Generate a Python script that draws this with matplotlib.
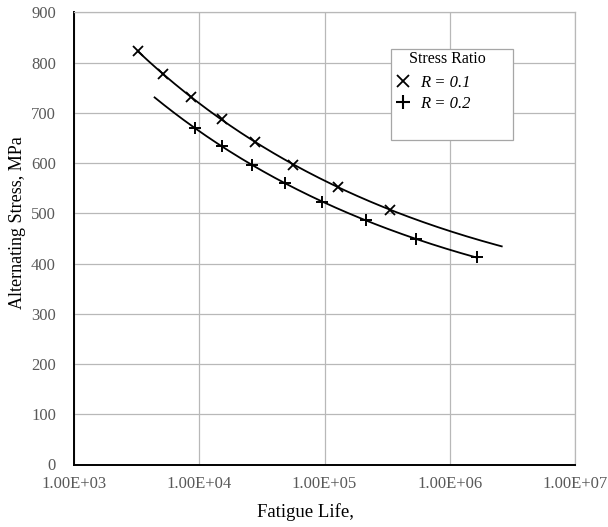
"""S-N curve: alternating stress vs fatigue life for two stress ratios."""
import matplotlib
matplotlib.use("Agg")
import matplotlib.pyplot as plt
import numpy as np
from matplotlib.lines import Line2D
from matplotlib.patches import Rectangle

# --- data --------------------------------------------------------------------
n_r01 = [3.26e3, 5.16e3, 8.53e3, 1.51e4, 2.79e4, 5.63e4, 1.27e5, 3.33e5]
s_r01 = [822, 777, 731, 687, 642, 597, 553, 507]
n_r02 = [9.25e3, 1.53e4, 2.64e4, 4.83e4, 9.59e4, 2.13e5, 5.36e5, 1.65e6]
s_r02 = [669, 633, 596, 560, 523, 487, 448, 412]
trend_r01 = (3.26e3, 2.6e6)     # span of the fitted curve
trend_r02 = (4.4e3, 1.65e6)

x_ticks = [1e3, 1e4, 1e5, 1e6, 1e7]
x_ticklabels = ["1.00E+03", "1.00E+04", "1.00E+05", "1.00E+06", "1.00E+07"]
y_ticks = list(range(0, 1000, 100))

GRID, TICK = "#b8b8b8", "#595959"

plt.rcParams.update({
    "font.family": ["Liberation Serif", "DejaVu Serif"],
    "figure.dpi": 100,
    "savefig.dpi": 100,
})


def trend(n, s, span):
    """Quadratic fit in log-log space, like a spreadsheet trendline."""
    coef = np.polyfit(np.log10(n), np.log10(s), 2)
    xs = np.logspace(np.log10(span[0]), np.log10(span[1]), 200)
    return xs, 10 ** np.polyval(coef, np.log10(xs))


fig = plt.figure(figsize=(6.08, 5.27))
ax = fig.add_axes([74 / 608, 1 - 464.5 / 527, (575 - 74) / 608, (464.5 - 12.3) / 527])

for n, s, span in ((n_r01, s_r01, trend_r01), (n_r02, s_r02, trend_r02)):
    xs, ys = trend(n, s, span)
    ax.plot(xs, ys, color="black", lw=1.3, zorder=3)
ax.plot(n_r01, s_r01, ls="none", marker="x", ms=7, mew=1.3, color="black", zorder=4)
ax.plot(n_r02, s_r02, ls="none", marker="+", ms=9, mew=1.4, color="black", zorder=4)

ax.set_xscale("log")
ax.set_xlim(1e3, 1e7)
ax.set_ylim(0, 900)
ax.set_xticks(x_ticks)
ax.set_xticklabels(x_ticklabels)
ax.xaxis.set_minor_locator(matplotlib.ticker.NullLocator())
ax.set_yticks(y_ticks)
ax.tick_params(length=0, labelsize=12, labelcolor=TICK)
ax.tick_params(axis="x", pad=8)
ax.tick_params(axis="y", pad=13)
ax.grid(True, color=GRID, lw=0.9)
ax.set_axisbelow(True)
for side in ("top", "right"):
    ax.spines[side].set_color(GRID)
    ax.spines[side].set_linewidth(0.9)
for side in ("left", "bottom"):
    ax.spines[side].set_color("black")
    ax.spines[side].set_linewidth(1.4)

fig.text(18 / 608, 1 - 223 / 527, "Alternating Stress, MPa", rotation=90,
         ha="center", va="center", fontsize=13)
fig.text(305.5 / 608, 1 - 512 / 527, "Fatigue Life,", ha="center", va="center",
         fontsize=13.5)

# legend: boxed, with the title on top and spare room below the entries
fig.patches.append(Rectangle((391 / 608, 1 - 140 / 527), 122 / 608, 91 / 527,
                             transform=fig.transFigure, facecolor="white",
                             edgecolor="#a6a6a6", lw=0.9, zorder=5))
fig.text(447 / 608, 1 - 59 / 527, "Stress Ratio", ha="center", va="center",
         fontsize=11.5, zorder=6)
handles = [Line2D([], [], ls="none", marker="x", ms=9, mew=1.3, color="black"),
           Line2D([], [], ls="none", marker="+", ms=10, mew=1.5, color="black")]
leg = fig.legend(handles, ["R = 0.1", "R = 0.2"], loc="upper left",
                 bbox_to_anchor=(383 / 608, 1 - 63 / 527), frameon=False,
                 handlelength=1.0, handletextpad=0.5, labelspacing=0.3,
                 borderpad=0.2, prop={"style": "italic", "size": 12})
leg.set_zorder(6)

fig.savefig("out.png")
